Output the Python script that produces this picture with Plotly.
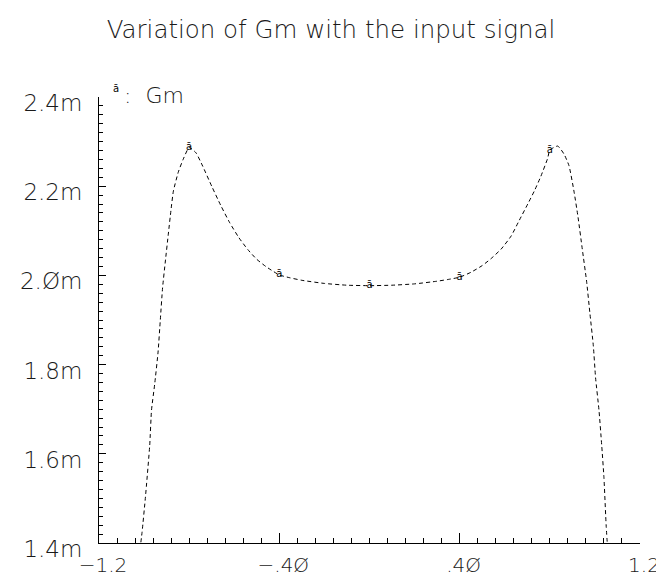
import plotly.graph_objects as go

# Gm curve (units: mS, i.e. "m" on the axis)
x_vals = [-1.022, -1.009, -0.994, -0.975, -0.967, -0.953, -0.938, -0.928, -0.918,
          -0.906, -0.892, -0.881, -0.870, -0.848, -0.826, -0.800, -0.770, -0.740,
          -0.700, -0.660, -0.620, -0.580, -0.540, -0.500, -0.460, -0.430, -0.400,
          -0.356, -0.300, -0.200, -0.100, 0.000, 0.100, 0.200, 0.300, 0.350,
          0.400, 0.450, 0.500, 0.540, 0.584, 0.628, 0.665, 0.702, 0.731, 0.760,
          0.790, 0.800, 0.835, 0.863, 0.885, 0.907, 0.925, 0.944, 0.963, 0.978,
          0.993, 1.003, 1.018, 1.030, 1.040, 1.050, 1.060]
gm_vals = [1.370, 1.424, 1.503, 1.619, 1.698, 1.756, 1.828, 1.900, 1.972,
           2.030, 2.095, 2.145, 2.189, 2.232, 2.261, 2.287, 2.275, 2.245,
           2.200, 2.157, 2.118, 2.085, 2.058, 2.036, 2.020, 2.010, 2.001,
           1.995, 1.989, 1.982, 1.978, 1.977, 1.978, 1.981, 1.987, 1.991,
           1.996, 2.007, 2.022, 2.038, 2.059, 2.088, 2.124, 2.160, 2.189, 2.222,
           2.262, 2.281, 2.290, 2.272, 2.246, 2.189, 2.131, 2.059, 1.987, 1.914,
           1.842, 1.770, 1.698, 1.620, 1.547, 1.438, 1.360]

# plotted symbols ("a") on the curve
mark_x = [-0.8, -0.4, 0.0, 0.4, 0.8]
mark_y = [2.287, 2.001, 1.977, 1.996, 2.281]

y_ticks = [1.4, 1.6, 1.8, 2.0, 2.2, 2.4]
y_ticktext = ["1.4m", "1.6m", "1.8m", "2.Øm", "2.2m", "2.4m"]
x_ticks = [-1.2, -0.4, 0.4, 1.2]
x_ticktext = ["−1.2", "−.4Ø", ".4Ø", "1.2"]

title_text = "Variation of Gm with the input signal"
series_name = "Gm"

FONT = "DejaVu Sans"
TXT = "#1a1a1a"

fig = go.Figure()
fig.add_trace(go.Scatter(
    x=x_vals, y=gm_vals, mode="lines",
    line=dict(color="black", width=1, dash="4px,3px", shape="spline", smoothing=0.5),
    showlegend=False, hoverinfo="skip"))
fig.add_trace(go.Scatter(
    x=mark_x, y=mark_y, mode="text", text=["ā"] * len(mark_x),
    textposition="middle center",
    textfont=dict(family=FONT, size=10, color="black"),
    showlegend=False, hoverinfo="skip"))

axis_font = dict(family=FONT, size=23, color=TXT, weight=200)

fig.update_layout(
    width=664, height=581,
    margin=dict(l=88, r=30, t=89, b=30),
    paper_bgcolor="white", plot_bgcolor="white",
    title=dict(text=title_text, x=323 / 664, xref="container", xanchor="center",
               y=1 - 21 / 581, yref="container", yanchor="middle",
               font=dict(family=FONT, size=24.5, color=TXT, weight=200)),
    xaxis=dict(range=[-1.2, 1.2], showgrid=False, zeroline=False,
               showline=True, linecolor="black", linewidth=1,
               ticks="inside", ticklen=10, tickcolor="black", tickwidth=1,
               tickvals=x_ticks, ticktext=x_ticktext,
               tickfont=dict(family=FONT, size=20, color=TXT, weight=200),
               ticklabelshift=4, ticklabelstandoff=4,
               minor=dict(ticks="inside", ticklen=5, tickcolor="black",
                          tick0=-1.2, dtick=0.08, showgrid=False)),
    yaxis=dict(range=[1.4, 2.4], showgrid=False, zeroline=False,
               showline=True, linecolor="black", linewidth=1,
               ticks="inside", ticklen=7, tickcolor="black", tickwidth=1,
               tickvals=y_ticks, ticktext=y_ticktext, tickfont=axis_font,
               ticklabelstandoff=11, ticklabelshift=6,
               minor=dict(ticks="inside", ticklen=4, tickcolor="black",
                          tick0=1.4, dtick=0.02, showgrid=False)),
    annotations=[
        dict(text="ā", x=100, y=581 - 72, xref="paper", yref="paper",
             showarrow=False, font=dict(family=FONT, size=10, color="black")),
        dict(text=":  " + series_name, x=111, y=581 - 72, xanchor="left",
             xref="paper", yref="paper", showarrow=False,
             font=dict(family=FONT, size=22, color=TXT, weight=200)),
    ],
)
# annotations positioned in pixels -> convert to paper fractions
pw, ph = 664 - 88 - 30, 581 - 89 - 30
for a in fig.layout.annotations:
    a.x = (a.x - 88) / pw
    a.y = (a.y - 30) / ph

fig.write_html("out.html")
